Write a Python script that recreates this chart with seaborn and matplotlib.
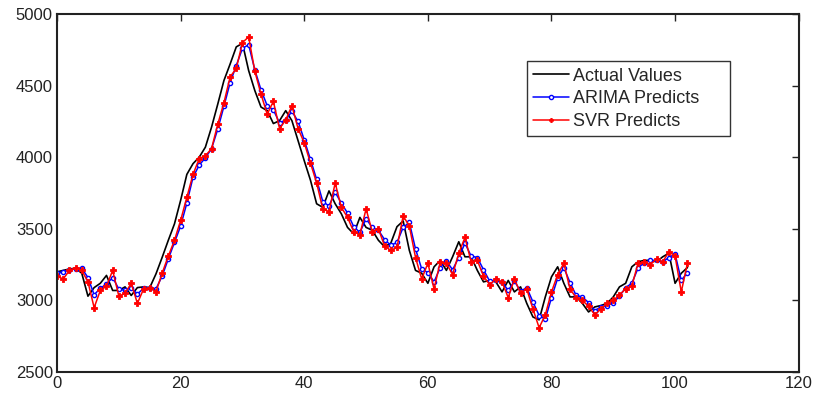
import matplotlib
matplotlib.use("Agg")
import matplotlib.pyplot as plt
import seaborn as sns
import pandas as pd

# Time index of the series
t = list(range(0, 103))

actual_values = [
    3200, 3210, 3220, 3225, 3190, 3030, 3090, 3120, 3175, 3070,
    3070, 3095, 3035, 3090, 3095, 3090, 3185, 3300, 3420, 3535,
    3700, 3880, 3955, 4000, 4070, 4210, 4370, 4535, 4650, 4770,
    4795, 4605, 4465, 4350, 4325, 4235, 4255, 4325, 4255, 4115,
    3975, 3840, 3675, 3650, 3765, 3675, 3605, 3510, 3465, 3580,
    3510, 3490, 3420, 3375, 3400, 3515, 3555, 3350, 3210, 3190,
    3120, 3235, 3280, 3210, 3305, 3410, 3305, 3305, 3210, 3130,
    3140, 3130, 3060, 3140, 3060, 3095, 2980, 2885, 2865, 3025,
    3165, 3235, 3120, 3025, 3025, 2980, 2920, 2955, 2965, 2980,
    3025, 3095, 3120, 3235, 3270, 3280, 3280, 3270, 3305, 3330,
    3120, 3190, 3230,
]

arima_predicts = [
    3190, 3200, 3215, 3220, 3225, 3160, 3040, 3085, 3115, 3160,
    3080, 3070, 3090, 3045, 3085, 3090, 3080, 3170, 3290, 3405,
    3520, 3680, 3860, 3945, 3995, 4060, 4195, 4355, 4520, 4640,
    4760, 4785, 4610, 4470, 4360, 4330, 4240, 4260, 4320, 4250,
    4120, 3985, 3845, 3690, 3660, 3755, 3680, 3610, 3515, 3475,
    3570, 3510, 3490, 3425, 3385, 3405, 3510, 3545, 3360, 3220,
    3195, 3130, 3230, 3275, 3215, 3300, 3400, 3310, 3300, 3215,
    3135, 3140, 3130, 3070, 3135, 3065, 3090, 2990, 2895, 2870,
    3020, 3155, 3230, 3125, 3035, 3025, 2985, 2930, 2955, 2965,
    2985, 3030, 3090, 3120, 3225, 3265, 3280, 3280, 3270, 3300,
    3325, 3140, 3195,
]

svr_predicts = [
    3170, 3150, 3210, 3230, 3210, 3130, 2950, 3070, 3100, 3210,
    3030, 3050, 3120, 2980, 3080, 3090, 3060, 3190, 3310, 3420,
    3560, 3720, 3880, 3990, 4010, 4060, 4230, 4380, 4560, 4620,
    4800, 4840, 4600, 4440, 4300, 4390, 4200, 4260, 4360, 4200,
    4100, 3960, 3820, 3640, 3620, 3820, 3650, 3580, 3480, 3460,
    3640, 3480, 3500, 3380, 3350, 3370, 3590, 3520, 3300, 3150,
    3260, 3080, 3270, 3260, 3180, 3330, 3440, 3270, 3280, 3170,
    3110, 3150, 3130, 3020, 3150, 3050, 3080, 2940, 2810, 2900,
    3060, 3180, 3260, 3080, 3020, 3000, 2960, 2900, 2940, 2980,
    3000, 3040, 3080, 3100, 3260, 3270, 3250, 3290, 3270, 3340,
    3310, 3060, 3260,
]

x_ticks = [0, 20, 40, 60, 80, 100, 120]
y_ticks = [2500, 3000, 3500, 4000, 4500, 5000]

df = pd.DataFrame({
    "t": t,
    "Actual Values": actual_values,
    "ARIMA Predicts": arima_predicts,
    "SVR Predicts": svr_predicts,
})

sns.set_style("white")
plt.rcParams["font.family"] = ["Liberation Sans", "DejaVu Sans"]

fig = plt.figure(figsize=(8.15, 3.98), dpi=100)
ax = fig.add_axes([0.070, 0.065, 0.910, 0.900])

sns.lineplot(data=df, x="t", y="Actual Values", ax=ax, color="black",
             linewidth=1.2, label="Actual Values")
sns.lineplot(data=df, x="t", y="ARIMA Predicts", ax=ax, color="#0000ff",
             linewidth=1.1, marker="o", markersize=3.0,
             markerfacecolor="white", markeredgecolor="#0000ff",
             markeredgewidth=1.0, label="ARIMA Predicts")
sns.lineplot(data=df, x="t", y="SVR Predicts", ax=ax, color="#ff0000",
             linewidth=1.1, marker="P", markersize=5.0,
             markeredgecolor="#ff0000", markeredgewidth=0.6,
             label="SVR Predicts")

ax.set_xlim(0, 120)
ax.set_ylim(2500, 5000)
ax.set_xticks(x_ticks)
ax.set_yticks(y_ticks)
ax.set_xlabel("")
ax.set_ylabel("")

ax.tick_params(axis="both", which="both", direction="in", length=5,
               width=1.0, top=True, right=True, labelsize=12,
               labelcolor="#222222", color="#222222", pad=3)
for s in ax.spines.values():
    s.set_visible(True)
    s.set_color("#222222")
    s.set_linewidth(1.5)

# legend box spanning a fixed width in the upper right area
leg = ax.legend(loc="upper left", bbox_to_anchor=(0.633, 0.664, 0.274, 0.204),
                mode="expand", fontsize=13, frameon=True, fancybox=False,
                edgecolor="black", borderpad=0.35, labelspacing=0.32,
                handlelength=2.0, handletextpad=0.25, borderaxespad=0)
leg.get_frame().set_linewidth(1.0)
for h in leg.get_lines():
    h.set_markersize(3)

fig.savefig("out.png", dpi=100)
